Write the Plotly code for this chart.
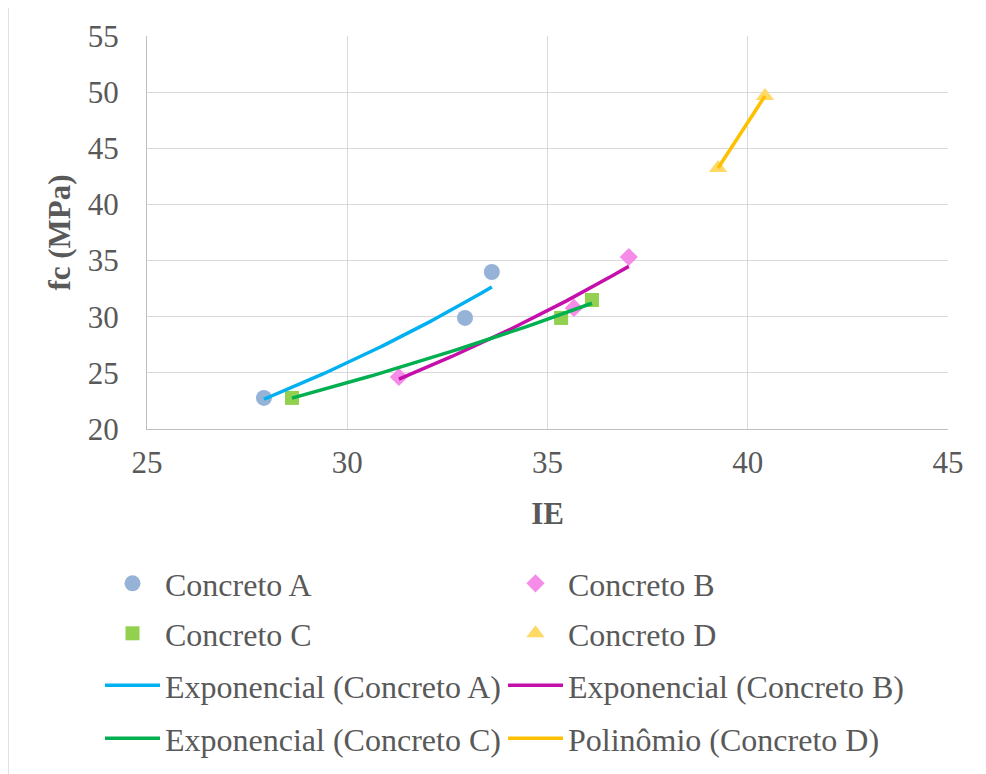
import numpy as np
import plotly.graph_objects as go

# ---- data ----
a_x = [27.92, 32.94, 33.61]
a_y = [22.77, 29.89, 33.98]
b_x = [31.29, 35.66, 37.03]
b_y = [24.63, 30.78, 35.32]
c_x = [28.62, 35.34, 36.11]
c_y = [22.77, 29.89, 31.49]
d_x = [39.26, 40.43]
d_y = [43.25, 49.66]

x_ticks = [25, 30, 35, 40, 45]
y_ticks = [20, 25, 30, 35, 40, 45, 50, 55]

FONT = "Liberation Serif, Times New Roman, serif"
TXT = "#595959"
FS = 31
LFS = 32


def exp_fit(xs, ys, n=60):
    xs = np.asarray(xs, float)
    ys = np.asarray(ys, float)
    b, ln_a = np.polyfit(xs, np.log(ys), 1)
    gx = np.linspace(xs.min(), xs.max(), n)
    return gx, np.exp(ln_a) * np.exp(b * gx)


def poly_fit(xs, ys, order=2, n=60):
    xs = np.asarray(xs, float)
    ys = np.asarray(ys, float)
    deg = min(order, len(xs) - 1)
    p = np.polyfit(xs, ys, deg)
    gx = np.linspace(xs.min(), xs.max(), n)
    return gx, np.polyval(p, gx)


fig = go.Figure()

msize = 16
fig.add_trace(go.Scatter(x=a_x, y=a_y, mode="markers", name="Concreto A", legend="legend",
                         marker=dict(symbol="circle", size=msize, color="#95B3D7")))
fig.add_trace(go.Scatter(x=b_x, y=b_y, mode="markers", name="Concreto B", legend="legend",
                         marker=dict(symbol="diamond", size=msize - 2, color="#F48CE8")))
fig.add_trace(go.Scatter(x=c_x, y=c_y, mode="markers", name="Concreto C", legend="legend2",
                         marker=dict(symbol="square", size=msize - 2, color="#92D050")))
fig.add_trace(go.Scatter(x=d_x, y=d_y, mode="markers", name="Concreto D", legend="legend2",
                         marker=dict(symbol="triangle-up", size=msize, color="#FFD966")))

lw = 3.5
gx, gy = exp_fit(a_x, a_y)
fig.add_trace(go.Scatter(x=gx, y=gy, mode="lines", name="Exponencial (Concreto A)", legend="legend3",
                         line=dict(color="#00B0F0", width=lw)))
gx, gy = exp_fit(b_x, b_y)
fig.add_trace(go.Scatter(x=gx, y=gy, mode="lines", name="Exponencial (Concreto B)", legend="legend3",
                         line=dict(color="#C40FAA", width=lw)))
gx, gy = exp_fit(c_x, c_y)
fig.add_trace(go.Scatter(x=gx, y=gy, mode="lines", name="Exponencial (Concreto C)", legend="legend4",
                         line=dict(color="#00B050", width=lw)))
gx, gy = poly_fit(d_x, d_y)
fig.add_trace(go.Scatter(x=gx, y=gy, mode="lines", name="Polinômio (Concreto D)", legend="legend4",
                         line=dict(color="#FFC000", width=lw)))

# figure is placed at an 8px page offset; margins compensate
ML, MT, PW, PH = 139, 28, 801, 393
W, H = 978, 766


def leg(top_px):
    return dict(
        orientation="h",
        xref="paper", yref="paper",
        x=(92 - ML) / PW, xanchor="left",
        y=(MT + PH - top_px) / PH, yanchor="top",
        entrywidth=333, entrywidthmode="pixels",
        itemwidth=55,
        font=dict(family=FONT, size=LFS, color=TXT),
        bgcolor="rgba(0,0,0,0)",
        traceorder="normal",
    )


fig.update_layout(
    width=W, height=H,
    margin=dict(l=ML, r=W - ML - PW, t=MT, b=H - MT - PH, autoexpand=False),
    paper_bgcolor="white", plot_bgcolor="white",
    font=dict(family=FONT, size=FS, color=TXT),
    showlegend=True,
    legend=leg(548), legend2=leg(598), legend3=leg(650), legend4=leg(703),
    xaxis=dict(
        range=[25, 45], tickvals=x_ticks, showgrid=True, gridcolor="#D9D9D9", gridwidth=1.3,
        showline=True, linecolor="#BFBFBF", linewidth=1.3, mirror=False, zeroline=False,
        ticks="outside", ticklen=0, ticklabelstandoff=6,
        tickfont=dict(family=FONT, size=FS, color=TXT),
        title=dict(text="<b>IE</b>", standoff=22,
                   font=dict(family=FONT, size=FS, color=TXT)),
    ),
    yaxis=dict(
        range=[20, 55], tickvals=y_ticks, showgrid=True, gridcolor="#D9D9D9", gridwidth=1.3,
        showline=True, linecolor="#BFBFBF", linewidth=1.3, mirror=False, zeroline=False,
        ticks="outside", ticklen=0, ticklabelstandoff=21,
        tickfont=dict(family=FONT, size=FS, color=TXT),
        title=dict(text="<b>fc (MPa)</b>", standoff=7,
                   font=dict(family=FONT, size=FS, color=TXT)),
    ),
    shapes=[dict(type="rect", xref="paper", yref="paper",
                 x0=(0 - ML) / PW, x1=(1000 - ML) / PW,
                 y0=(MT + PH - 800) / PH, y1=(MT + PH - (-3)) / PH,
                 line=dict(color="#D9D9D9", width=1.5), layer="below")],
)

fig.write_html("out.html")
